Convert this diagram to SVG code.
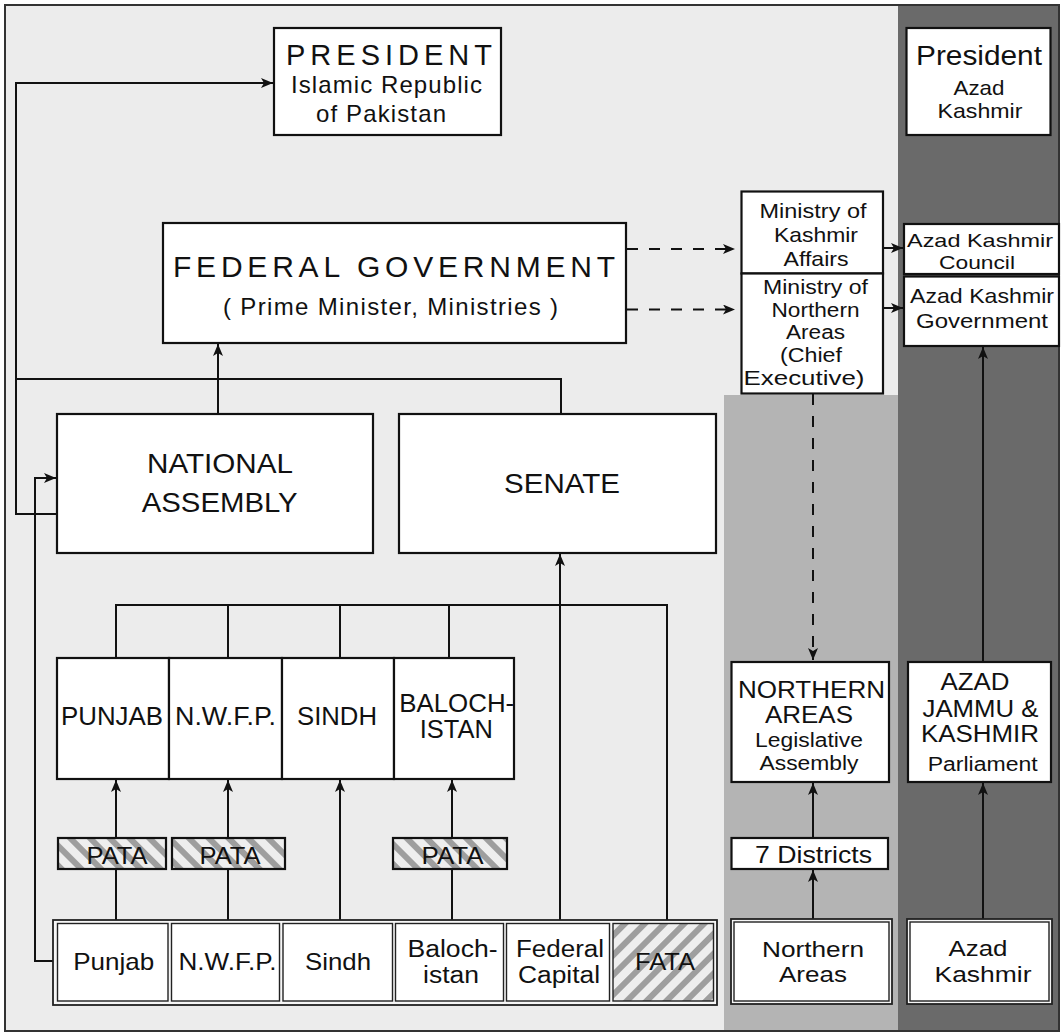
<svg xmlns="http://www.w3.org/2000/svg" width="1062" height="1034" viewBox="0 0 1062 1034">
<style>
.box{fill:#fff;stroke:#111;stroke-width:2.2}
.thin{fill:#fff;stroke:#222;stroke-width:1.4}
.frame{fill:#f6f6f6;stroke:#222;stroke-width:1.8}
.ln{fill:none;stroke:#111;stroke-width:2}
.dash{stroke-dasharray:11 11}
text{font-family:"Liberation Sans",Arial,Helvetica,sans-serif;fill:#111;text-anchor:middle}
.f19{font-size:19px}.f20{font-size:20px}.f21{font-size:21px}.f22{font-size:22px}.f23{font-size:23px}.f24{font-size:24px}.f25{font-size:25px}.f27{font-size:27px}.f28{font-size:28px}.f29{font-size:29px}.f30{font-size:30px}
</style>
<defs>
<marker id="ah" markerWidth="12" markerHeight="10" refX="12" refY="5" orient="auto" markerUnits="userSpaceOnUse">
<path d="M0,0 L12,5 L0,10 L3,5 z" fill="#111"/>
</marker>
<pattern id="hatchF" width="14" height="14" patternUnits="userSpaceOnUse" patternTransform="rotate(45)">
<rect width="14" height="14" fill="#eeeeee"/><rect width="6" height="14" fill="#9e9e9e"/>
</pattern>
<pattern id="hatchP" width="14" height="14" patternUnits="userSpaceOnUse" patternTransform="rotate(-45)">
<rect width="14" height="14" fill="#eeeeee"/><rect width="6" height="14" fill="#9e9e9e"/>
</pattern>
</defs>

<g id="background">
<rect x="0" y="0" width="1062" height="1034" fill="#ffffff"/>
<rect x="5" y="5" width="1054" height="1026" fill="#ececec" stroke="#333" stroke-width="2"/>
<rect x="724" y="395" width="174" height="635" fill="#b4b4b4"/>
<rect x="898" y="6" width="160" height="1024" fill="#6a6a6a"/>
</g>

<g id="connectors">
<path class="ln" d="M57,514 H16 V83 H273" marker-end="url(#ah)"/>
<path class="ln" d="M53,961 H35 V478 H56" marker-end="url(#ah)"/>
<path class="ln" d="M16,379 H561 V414"/>
<path class="ln" d="M218,414 V344" marker-end="url(#ah)"/>
<path class="ln" d="M116,658 V605 H667 V920"/>
<path class="ln" d="M228,605 V658 M340,605 V658 M449,605 V658"/>
<path class="ln" d="M560,920 V554" marker-end="url(#ah)"/>
<path class="ln" d="M116,920 V869 M228,920 V869 M452,920 V869"/>
<path class="ln" d="M116,838 V780" marker-end="url(#ah)"/>
<path class="ln" d="M228,838 V780" marker-end="url(#ah)"/>
<path class="ln" d="M452,838 V780" marker-end="url(#ah)"/>
<path class="ln" d="M340,920 V780" marker-end="url(#ah)"/>
<path class="ln dash" d="M627,249 H735" marker-end="url(#ah)"/>
<path class="ln dash" d="M627,309.5 H735" marker-end="url(#ah)"/>
<path class="ln" d="M883,248 H903" marker-end="url(#ah)"/>
<path class="ln" d="M883,308 H903" marker-end="url(#ah)"/>
<path class="ln dash" d="M813,394 V660" marker-end="url(#ah)"/>
<path class="ln" d="M813,838 V783" marker-end="url(#ah)"/>
<path class="ln" d="M813,919 V870" marker-end="url(#ah)"/>
<path class="ln" d="M983,919 V783" marker-end="url(#ah)"/>
<path class="ln" d="M983,662 V347" marker-end="url(#ah)"/>
</g>

<g id="president-pk">
<rect class="box" x="274" y="28" width="227" height="107"/>
<text class="f29" x="389" y="65" textLength="206">PRESIDENT</text>
<text class="f24" x="386.5" y="92.5" textLength="191">Islamic Republic</text>
<text class="f24" x="381" y="121.5" textLength="130">of Pakistan</text>
</g>

<g id="federal-government">
<rect class="box" x="163" y="223" width="463" height="120"/>
<text class="f30" x="394" y="277" textLength="442">FEDERAL GOVERNMENT</text>
<text class="f24" x="390.5" y="315" textLength="335">( Prime Minister, Ministries )</text>
</g>

<g id="national-assembly">
<rect class="box" x="57" y="414" width="316" height="139"/>
<text class="f28" x="220" y="473" textLength="146" lengthAdjust="spacingAndGlyphs">NATIONAL</text>
<text class="f28" x="219.7" y="511.5" textLength="156" lengthAdjust="spacingAndGlyphs">ASSEMBLY</text>
</g>

<g id="senate">
<rect class="box" x="399" y="414" width="317" height="139"/>
<text class="f28" x="562" y="493" textLength="116" lengthAdjust="spacingAndGlyphs">SENATE</text>
</g>

<g id="province-punjab">
<rect class="box" x="57" y="658" width="112" height="121"/>
<text class="f25" x="112" y="725" textLength="102" lengthAdjust="spacingAndGlyphs">PUNJAB</text>
</g>
<g id="province-nwfp">
<rect class="box" x="169" y="658" width="113" height="121"/>
<text class="f25" x="225.5" y="725" textLength="101" lengthAdjust="spacingAndGlyphs">N.W.F.P.</text>
</g>
<g id="province-sindh">
<rect class="box" x="282" y="658" width="112" height="121"/>
<text class="f25" x="337" y="725" textLength="80" lengthAdjust="spacingAndGlyphs">SINDH</text>
</g>
<g id="province-balochistan">
<rect class="box" x="394" y="658" width="120" height="121"/>
<text class="f25" x="456.7" y="711.7" textLength="115" lengthAdjust="spacingAndGlyphs">BALOCH-</text>
<text class="f25" x="456.3" y="737.7" textLength="73" lengthAdjust="spacingAndGlyphs">ISTAN</text>
</g>

<g id="pata-punjab">
<rect class="box" x="58" y="838" width="108" height="31" style="fill:url(#hatchP)"/>
<text class="f23" x="117" y="864" textLength="61" lengthAdjust="spacingAndGlyphs">PATA</text>
</g>
<g id="pata-nwfp">
<rect class="box" x="172" y="838" width="113" height="31" style="fill:url(#hatchP)"/>
<text class="f23" x="230" y="864" textLength="61" lengthAdjust="spacingAndGlyphs">PATA</text>
</g>
<g id="pata-balochistan">
<rect class="box" x="393" y="838" width="114" height="31" style="fill:url(#hatchP)"/>
<text class="f23" x="452.5" y="864" textLength="62" lengthAdjust="spacingAndGlyphs">PATA</text>
</g>

<g id="areas-frame">
<rect class="frame" x="53" y="920" width="664" height="85"/>
</g>
<g id="area-punjab">
<rect class="thin" x="57.5" y="923.5" width="110.5" height="77.5"/>
<text class="f24" x="113.7" y="970" textLength="81" lengthAdjust="spacingAndGlyphs">Punjab</text>
</g>
<g id="area-nwfp">
<rect class="thin" x="171.5" y="923.5" width="108" height="77.5"/>
<text class="f24" x="227.5" y="970" textLength="98" lengthAdjust="spacingAndGlyphs">N.W.F.P.</text>
</g>
<g id="area-sindh">
<rect class="thin" x="283" y="923.5" width="109.5" height="77.5"/>
<text class="f24" x="338" y="970" textLength="66" lengthAdjust="spacingAndGlyphs">Sindh</text>
</g>
<g id="area-balochistan">
<rect class="thin" x="395.5" y="923.5" width="108" height="77.5"/>
<text class="f23" x="452.5" y="956.7" textLength="90" lengthAdjust="spacingAndGlyphs">Baloch-</text>
<text class="f23" x="451" y="983.3" textLength="56" lengthAdjust="spacingAndGlyphs">istan</text>
</g>
<g id="area-federal-capital">
<rect class="thin" x="506.5" y="923.5" width="103" height="77.5"/>
<text class="f23" x="560" y="956.7" textLength="88" lengthAdjust="spacingAndGlyphs">Federal</text>
<text class="f23" x="559" y="983" textLength="82" lengthAdjust="spacingAndGlyphs">Capital</text>
</g>
<g id="area-fata">
<rect class="thin" x="613" y="923.5" width="100.5" height="77.5" style="fill:url(#hatchF)"/>
<text class="f24" x="665" y="970" textLength="60" lengthAdjust="spacingAndGlyphs">FATA</text>
</g>

<g id="ministry-kashmir-affairs">
<rect class="box" x="741.5" y="191.5" width="141.5" height="82"/>
<text class="f21" x="813" y="218" textLength="107" lengthAdjust="spacingAndGlyphs">Ministry of</text>
<text class="f21" x="816" y="242" textLength="84" lengthAdjust="spacingAndGlyphs">Kashmir</text>
<text class="f21" x="816" y="265.5" textLength="65" lengthAdjust="spacingAndGlyphs">Affairs</text>
</g>
<g id="ministry-northern-areas">
<rect class="box" x="741.5" y="273.5" width="141.5" height="120"/>
<text class="f20" x="815.5" y="294" textLength="105" lengthAdjust="spacingAndGlyphs">Ministry of</text>
<text class="f20" x="815.5" y="316.5" textLength="88" lengthAdjust="spacingAndGlyphs">Northern</text>
<text class="f20" x="815.5" y="339" textLength="59" lengthAdjust="spacingAndGlyphs">Areas</text>
<text class="f20" x="811" y="362" textLength="62" lengthAdjust="spacingAndGlyphs">(Chief</text>
<text class="f20" x="804" y="385" textLength="121" lengthAdjust="spacingAndGlyphs">Executive)</text>
</g>

<g id="president-ak">
<rect class="box" x="906.5" y="28" width="144" height="107"/>
<text class="f27" x="979" y="65" textLength="126" lengthAdjust="spacingAndGlyphs">President</text>
<text class="f21" x="979" y="95" textLength="51" lengthAdjust="spacingAndGlyphs">Azad</text>
<text class="f21" x="980" y="118" textLength="85" lengthAdjust="spacingAndGlyphs">Kashmir</text>
</g>
<g id="ak-council">
<rect class="box" x="904" y="224" width="155" height="50"/>
<text class="f19" x="980" y="247" textLength="146" lengthAdjust="spacingAndGlyphs">Azad Kashmir</text>
<text class="f19" x="977" y="269" textLength="76" lengthAdjust="spacingAndGlyphs">Council</text>
</g>
<g id="ak-government">
<rect class="box" x="904" y="276.5" width="155" height="69.5"/>
<text class="f21" x="982" y="303" textLength="144" lengthAdjust="spacingAndGlyphs">Azad Kashmir</text>
<text class="f21" x="982" y="328" textLength="132" lengthAdjust="spacingAndGlyphs">Government</text>
</g>

<g id="na-legislative-assembly">
<rect class="box" x="731.5" y="662" width="157.5" height="120"/>
<text class="f23" x="811.5" y="698" textLength="147" lengthAdjust="spacingAndGlyphs">NORTHERN</text>
<text class="f23" x="809" y="723" textLength="88" lengthAdjust="spacingAndGlyphs">AREAS</text>
<text class="f20" x="809" y="747" textLength="108" lengthAdjust="spacingAndGlyphs">Legislative</text>
<text class="f20" x="809" y="769.5" textLength="99" lengthAdjust="spacingAndGlyphs">Assembly</text>
</g>
<g id="ajk-parliament">
<rect class="box" x="908" y="662" width="143" height="120"/>
<text class="f23" x="975" y="690" textLength="69" lengthAdjust="spacingAndGlyphs">AZAD</text>
<text class="f23" x="980.5" y="716.5" textLength="116" lengthAdjust="spacingAndGlyphs">JAMMU &amp;</text>
<text class="f23" x="980" y="742" textLength="118" lengthAdjust="spacingAndGlyphs">KASHMIR</text>
<text class="f20" x="982.7" y="770.5" textLength="110" lengthAdjust="spacingAndGlyphs">Parliament</text>
</g>
<g id="seven-districts">
<rect class="box" x="731.5" y="838" width="156.5" height="31"/>
<text class="f24" x="813.5" y="863" textLength="117" lengthAdjust="spacingAndGlyphs">7 Districts</text>
</g>
<g id="area-northern">
<rect class="frame" x="731" y="919" width="161" height="85"/>
<rect class="thin" x="734" y="922" width="155" height="79"/>
<text class="f22" x="813" y="956.5" textLength="102" lengthAdjust="spacingAndGlyphs">Northern</text>
<text class="f22" x="813" y="982" textLength="68" lengthAdjust="spacingAndGlyphs">Areas</text>
</g>
<g id="area-azad-kashmir">
<rect class="frame" x="907" y="919" width="145" height="85"/>
<rect class="thin" x="910" y="922" width="139" height="79"/>
<text class="f22" x="978" y="956" textLength="59" lengthAdjust="spacingAndGlyphs">Azad</text>
<text class="f22" x="983" y="981.5" textLength="97" lengthAdjust="spacingAndGlyphs">Kashmir</text>
</g>
</svg>
